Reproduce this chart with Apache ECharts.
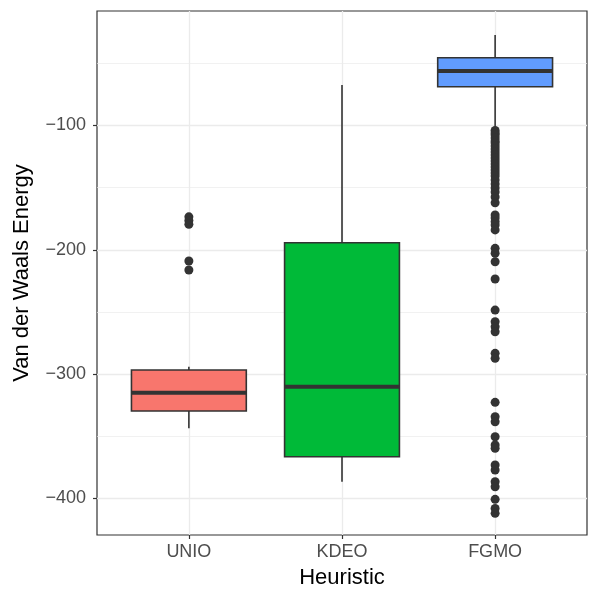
<!DOCTYPE html>
<html>
<head>
<meta charset="utf-8">
<script src="https://cdn.jsdelivr.net/npm/echarts@6/dist/echarts.min.js"></script>
<style>
  html, body { margin: 0; padding: 0; background: #ffffff; }
  #main { width: 600px; height: 600px; }
</style>
</head>
<body>
<div id="main"></div>
<script>
// categories and box statistics
var heuristics = ['UNIO', 'KDEO', 'FGMO'];
var boxColors = ['#F8766D', '#00BA38', '#619CFF'];
var whiskerLow = [-343.6, -386.6, -101.5];
var q1 = [-329.7, -366.4, -68.8];
var median = [-315.0, -310.1, -56.2];
var q3 = [-296.7, -194.3, -45.5];
var whiskerHigh = [-294.0, -67.4, -27.2];

var unioOutliers = [-173.5, -176.5, -179.5, -209.0, -216.2];
var fgmoOutliers = [
  -104.0, -106.0, -107.6, -110.1, -112.5, -114.1, -116.5, -118.9, -121.3,
  -123.7, -126.1, -128.6, -131.0, -133.4, -135.8, -138.2, -140.6, -143.8,
  -147.1, -150.3, -153.5, -157.5, -162.1, -172.0, -174.4, -177.4, -180.0,
  -184.0, -198.8, -202.8, -209.6, -223.5, -248.5, -257.8, -261.9, -265.9,
  -283.3, -287.3, -322.7, -334.3, -338.3, -350.4, -357.0, -359.7, -373.1,
  -377.1, -386.6, -390.6, -400.7, -408.0, -412.0
];

var yTicks = [-400, -300, -200, -100];
var yMinor = [-350, -250, -150, -50];

var boxData = heuristics.map(function (h, i) {
  return [i + 1, whiskerLow[i], q1[i], median[i], q3[i], whiskerHigh[i]];
});
var outlierData = [];
unioOutliers.forEach(function (v) { outlierData.push([1, v]); });
fgmoOutliers.forEach(function (v) { outlierData.push([3, v]); });

var gridLines = [];
[1, 2, 3].forEach(function (x) {
  gridLines.push({ xAxis: x, lineStyle: { width: 1.3 } });
});
yTicks.forEach(function (y) {
  gridLines.push({ yAxis: y, lineStyle: { width: 1.3 } });
});
yMinor.forEach(function (y) {
  gridLines.push({ yAxis: y, lineStyle: { width: 0.7 } });
});

function renderBox(params, api) {
  var x = api.value(0);
  var hw = 0.375;
  var low = api.coord([x, api.value(1)]);
  var bq1 = api.coord([x, api.value(2)]);
  var bq3 = api.coord([x, api.value(4)]);
  var high = api.coord([x, api.value(5)]);
  var leftMed = api.coord([x - hw, api.value(3)]);
  var rightMed = api.coord([x + hw, api.value(3)]);
  var topLeft = api.coord([x - hw, api.value(4)]);
  var botRight = api.coord([x + hw, api.value(2)]);
  var stroke = '#333333';
  return {
    type: 'group',
    children: [
      { type: 'line', shape: { x1: high[0], y1: high[1], x2: bq3[0], y2: bq3[1] },
        style: { stroke: stroke, lineWidth: 1.6 } },
      { type: 'line', shape: { x1: bq1[0], y1: bq1[1], x2: low[0], y2: low[1] },
        style: { stroke: stroke, lineWidth: 1.6 } },
      { type: 'rect',
        shape: { x: topLeft[0], y: topLeft[1], width: botRight[0] - topLeft[0], height: botRight[1] - topLeft[1] },
        style: { fill: boxColors[params.dataIndex], stroke: stroke, lineWidth: 1.6 } },
      { type: 'line', shape: { x1: leftMed[0], y1: leftMed[1], x2: rightMed[0], y2: rightMed[1] },
        style: { stroke: stroke, lineWidth: 4 } }
    ]
  };
}

var chartDom = document.getElementById('main');
var myChart = echarts.init(chartDom);
var option;

option = {
  animation: false,
  backgroundColor: '#ffffff',
  grid: {
    left: 97,
    right: 13,
    top: 11,
    bottom: 65,
    show: true,
    backgroundColor: '#ffffff',
    borderColor: '#333333',
    borderWidth: 1.2
  },
  xAxis: {
    type: 'value',
    min: 0.4,
    max: 3.6,
    axisLine: { show: false },
    splitLine: { show: false },
    axisTick: {
      show: true,
      customValues: [1, 2, 3],
      length: 4,
      lineStyle: { color: '#333333', width: 1.2 }
    },
    axisLabel: {
      customValues: [1, 2, 3],
      formatter: function (v) { return heuristics[Math.round(v) - 1]; },
      color: '#4D4D4D',
      fontSize: 18,
      fontFamily: 'Liberation Sans',
      margin: 8
    }
  },
  yAxis: {
    type: 'value',
    min: -429.4,
    max: -7.9,
    axisLine: { show: false },
    splitLine: { show: false },
    axisTick: {
      show: true,
      customValues: yTicks,
      length: 4,
      lineStyle: { color: '#333333', width: 1.2 }
    },
    axisLabel: {
      customValues: yTicks,
      formatter: function (v) { return String(v).replace('-', '\u2212'); },
      color: '#4D4D4D',
      fontSize: 18,
      fontFamily: 'Liberation Sans',
      margin: 11
    }
  },
  graphic: [
    {
      type: 'text',
      x: 342,
      y: 578,
      style: {
        text: 'Heuristic',
        fontSize: 22,
        fontFamily: 'Liberation Sans',
        fill: '#000000',
        textAlign: 'center',
        textVerticalAlign: 'middle'
      }
    },
    {
      type: 'text',
      x: 22,
      y: 273,
      rotation: Math.PI / 2,
      style: {
        text: 'Van der Waals Energy',
        fontSize: 22,
        fontFamily: 'Liberation Sans',
        fill: '#000000',
        textAlign: 'center',
        textVerticalAlign: 'middle'
      }
    }
  ],
  series: [
    {
      name: 'grid',
      type: 'line',
      data: [],
      z: 1,
      silent: true,
      markLine: {
        z: 1,
        silent: true,
        symbol: ['none', 'none'],
        label: { show: false },
        emphasis: { disabled: true },
        lineStyle: { color: '#EBEBEB', type: 'solid' },
        data: gridLines
      }
    },
    {
      name: 'boxes',
      type: 'custom',
      z: 2,
      silent: true,
      renderItem: renderBox,
      encode: { x: 0, y: [1, 2, 3, 4, 5] },
      data: boxData
    },
    {
      name: 'outliers',
      type: 'scatter',
      z: 3,
      silent: true,
      symbolSize: 9,
      itemStyle: { color: '#333333', opacity: 1 },
      data: outlierData
    }
  ]
};

option && myChart.setOption(option);
</script>
</body>
</html>
